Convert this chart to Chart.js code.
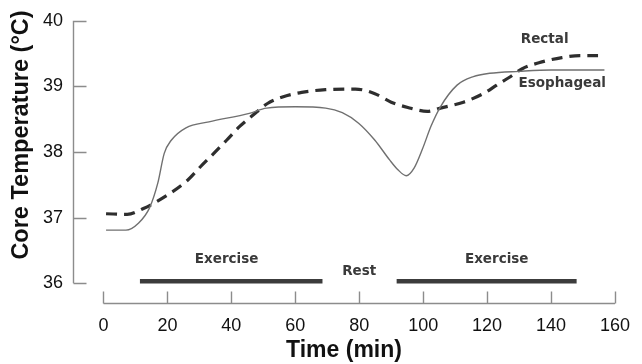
<!DOCTYPE html>
<html>
<head>
<meta charset="utf-8">
<title>Core temperature during exercise</title>
<script src="https://cdn.jsdelivr.net/npm/chart.js@4.4.1/dist/chart.umd.min.js"></script>
<style>
  html, body { margin: 0; padding: 0; background: #fff; }
  canvas { display: block; }
</style>
</head>
<body>
<canvas id="chart" width="642" height="364"></canvas>
<script>
// esophageal temperature (solid line)
const esoMinutes = [0.8, 7, 11, 14.4, 17, 19, 21.2, 25.8, 33, 45.6, 51, 60, 69.5, 74.7, 79.8, 84.9, 89.5, 92.1, 94.7, 97.2, 99.8, 102.5, 105.4, 110.6, 115.7, 120.8, 130, 140, 156.7];
const esoTemp = [36.81, 36.81, 36.92, 37.15, 37.53, 37.98, 38.18, 38.37, 38.46, 38.59, 38.67, 38.69, 38.67, 38.6, 38.44, 38.18, 37.88, 37.73, 37.64, 37.76, 38.05, 38.4, 38.69, 39.02, 39.15, 39.2, 39.23, 39.25, 39.25];

// rectal temperature (dashed line)
const rectMinutes = [0.8, 7.4, 12.5, 19.2, 26.3, 30.4, 34.5, 38.5, 42.6, 46.7, 51.3, 56, 62, 69.5, 78.8, 84.9, 90, 95.2, 101.3, 105.4, 112.6, 118.8, 123, 127, 131, 136.2, 143.4, 149, 154.7];
const rectTemp = [37.06, 37.05, 37.14, 37.32, 37.57, 37.78, 37.98, 38.18, 38.39, 38.56, 38.74, 38.84, 38.91, 38.95, 38.96, 38.89, 38.76, 38.68, 38.62, 38.67, 38.76, 38.89, 39.02, 39.14, 39.27, 39.36, 39.44, 39.47, 39.47];

// exercise bouts, start/end in minutes
const exerciseStart = [11.4, 91.7];
const exerciseEnd = [68.5, 148];
const barLevel = 36.03;

const xTicks = [0, 20, 40, 60, 80, 100, 120, 140, 160];
const yTicks = [36, 37, 38, 39, 40];

const FONT = "'Liberation Sans', Arial, Helvetica, sans-serif";
const NOTE_FONT = "bold 13.5px 'DejaVu Sans', sans-serif";
const toPoints = (xs, ys) => xs.map((x, i) => ({ x, y: ys[i] }));

// text placed in data units
const notes = [
  { text: "Exercise", x: 38.5, y: 36.37 },
  { text: "Rest", x: 80, y: 36.18 },
  { text: "Exercise", x: 123, y: 36.37 },
  { text: "Rectal", x: 138, y: 39.71 },
  { text: "Esophageal", x: 143.5, y: 39.05 },
];

const axesPlugin = {
  id: "detachedAxes",
  afterDraw(chart) {
    const { ctx, chartArea, scales: { x, y } } = chart;
    ctx.save();
    ctx.strokeStyle = "#8c8c8c";
    ctx.lineWidth = 1.4;
    ctx.beginPath();
    // y axis only spans 36..40, ticks point inward
    const ax = chartArea.left + 0.5;
    ctx.moveTo(ax, y.getPixelForValue(yTicks[yTicks.length - 1]));
    ctx.lineTo(ax, y.getPixelForValue(yTicks[0]));
    yTicks.forEach((v) => {
      const py = Math.round(y.getPixelForValue(v)) + 0.5;
      ctx.moveTo(ax, py);
      ctx.lineTo(ax + 13, py);
    });
    // x axis sits below, ticks point up
    const ay = Math.round(chartArea.bottom) + 0.5;
    ctx.moveTo(x.getPixelForValue(xTicks[0]), ay);
    ctx.lineTo(x.getPixelForValue(xTicks[xTicks.length - 1]), ay);
    xTicks.forEach((v) => {
      const px = Math.round(x.getPixelForValue(v)) + 0.5;
      ctx.moveTo(px, ay);
      ctx.lineTo(px, ay - 12);
    });
    ctx.stroke();

    ctx.fillStyle = "#3a3a3a";
    ctx.font = NOTE_FONT;
    ctx.textAlign = "center";
    ctx.textBaseline = "middle";
    notes.forEach((n) => {
      ctx.fillText(n.text, x.getPixelForValue(n.x), y.getPixelForValue(n.y));
    });

    // y axis title
    ctx.fillStyle = "#111";
    ctx.font = "bold 23.5px " + FONT;
    ctx.translate(22, 135);
    ctx.rotate(-Math.PI / 2);
    ctx.fillText("Core Temperature (\u00B0C)", 0, 0);
    ctx.restore();
  },
};

const barSets = exerciseStart.map((s, i) => ({
  data: toPoints([s, exerciseEnd[i]], [barLevel, barLevel]),
  borderColor: "#3c3c3c",
  borderWidth: 4.5,
  borderCapStyle: "butt",
  pointRadius: 0,
}));

new Chart(document.getElementById("chart"), {
  type: "line",
  data: {
    datasets: [
      {
        label: "Esophageal",
        data: toPoints(esoMinutes, esoTemp),
        borderColor: "#707070",
        borderWidth: 1.4,
        pointRadius: 0,
        cubicInterpolationMode: "monotone",
      },
      {
        label: "Rectal",
        data: toPoints(rectMinutes, rectTemp),
        borderColor: "#2e2e2e",
        borderWidth: 3.2,
        borderDash: [11, 7],
        pointRadius: 0,
        cubicInterpolationMode: "monotone",
      },
      ...barSets,
    ],
  },
  options: {
    responsive: false,
    animation: false,
    layout: { padding: { left: 0, right: 18, top: 20, bottom: 0 } },
    plugins: { legend: { display: false }, tooltip: { enabled: false } },
    scales: {
      x: {
        type: "linear",
        min: -9.54,
        max: 160,
        grid: { display: false, drawTicks: false },
        border: { display: false },
        afterBuildTicks: (s) => { s.ticks = xTicks.map((v) => ({ value: v })); },
        afterFit: (s) => { s.height = 61; },
        ticks: { padding: 12, maxRotation: 0, color: "#111", font: { family: FONT, size: 18 } },
        title: {
          display: true,
          text: "Time (min)",
          color: "#111",
          font: { family: FONT, size: 23, weight: "bold" },
          padding: { top: 0, bottom: 0 },
        },
      },
      y: {
        min: 35.7,
        max: 40,
        grid: { display: false, drawTicks: false },
        border: { display: false },
        afterBuildTicks: (s) => { s.ticks = yTicks.map((v) => ({ value: v })); },
        afterFit: (s) => { s.width = 73; },
        ticks: { padding: 10, color: "#111", font: { family: FONT, size: 18 } },
      },
    },
  },
  plugins: [axesPlugin],
});
</script>
</body>
</html>
